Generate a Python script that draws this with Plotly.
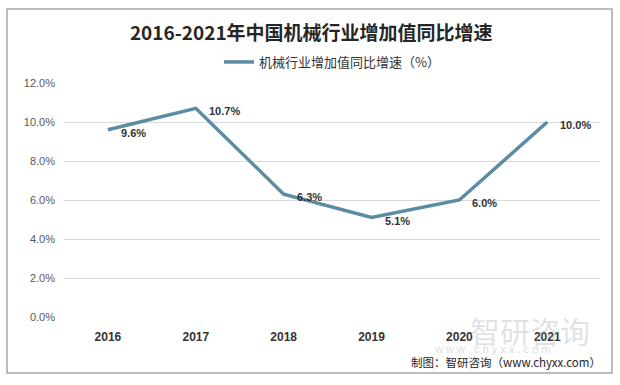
import plotly.graph_objects as go

years = ["2016", "2017", "2018", "2019", "2020", "2021"]
growth = [9.6, 10.7, 6.3, 5.1, 6.0, 10.0]
labels = ["9.6%", "10.7%", "6.3%", "5.1%", "6.0%", "10.0%"]
yticks = [0, 2, 4, 6, 8, 10, 12]
yticklabels = ["0.0%", "2.0%", "4.0%", "6.0%", "8.0%", "10.0%", "12.0%"]

line_color = "#5B8CA3"

fig = go.Figure()
fig.add_trace(go.Scatter(
    x=years, y=growth, mode="lines",
    name="机械行业增加值同比增速（%）",
    line=dict(color=line_color, width=3.5),
    cliponaxis=False,
))

# data labels (category index positions on the category axis)
for i, (v, t) in enumerate(zip(growth, labels)):
    fig.add_annotation(x=i, y=v, xref="x", yref="y", text="<b>" + t + "</b>", showarrow=False,
                       xanchor="left", yanchor="middle", xshift=11, yshift=-3,
                       font=dict(family="Liberation Sans, Arial", size=11, color="#333333"))

fig.update_layout(
    width=620, height=385,
    margin=dict(l=64, r=20, t=83, b=68, autoexpand=False),
    paper_bgcolor="white", plot_bgcolor="white",
    title=dict(text="<b>2016-2021年中国机械行业增加值同比增速</b>", x=0.502, xanchor="center",
               yref="container", y=0.914, yanchor="middle",
               font=dict(family="Noto Sans CJK SC", size=19, color="#262626")),
    showlegend=True,
    legend=dict(orientation="h", x=0.5, xanchor="center", yref="container", y=0.839, yanchor="middle",
                font=dict(family="Noto Sans CJK SC", size=13, color="#333333"),
                itemwidth=30),
    xaxis=dict(type="category", range=[-0.5, 5.6], showgrid=False, showline=False, ticks="",
               tickfont=dict(family="Liberation Sans, Arial", size=12, color="#333333", weight="bold"),
               ticklabelstandoff=11),
    yaxis=dict(range=[0, 12], tickvals=yticks, ticktext=yticklabels,
               showgrid=True, gridcolor="#D9D9D9", gridwidth=1, zeroline=False,
               tickfont=dict(family="Liberation Sans, Arial", size=11, color="#595959"),
               ticklabelstandoff=8),
)

# outer frame
fig.add_shape(type="rect", xref="paper", yref="paper", x0=-0.1063, x1=1.0224, y0=-0.239, y1=1.316,
              line=dict(color="#A6A6A6", width=1.5), layer="below")

# watermark
fig.add_annotation(xref="paper", yref="paper", x=0.985, y=-0.056, text="智研咨询", showarrow=False,
                   font=dict(family="Noto Sans CJK SC", size=30, color="rgba(160,172,185,0.35)"),
                   xanchor="right", yanchor="middle")
fig.add_annotation(xref="paper", yref="paper", x=0.8, y=-0.135, text="w w w . c h y x x . c o m",
                   showarrow=False, font=dict(family="Liberation Sans", size=11, color="rgba(160,172,185,0.45)"),
                   xanchor="center", yanchor="middle")
# source
fig.add_annotation(xref="paper", yref="paper", x=1.005, y=-0.192, text="制图：智研咨询（www.chyxx.com）",
                   showarrow=False, font=dict(family="Noto Sans CJK SC", size=11.5, color="#262626"),
                   xanchor="right", yanchor="middle")

fig.write_html("out.html", config={"displayModeBar": False},
               post_script="document.body.style.margin='0px';")
